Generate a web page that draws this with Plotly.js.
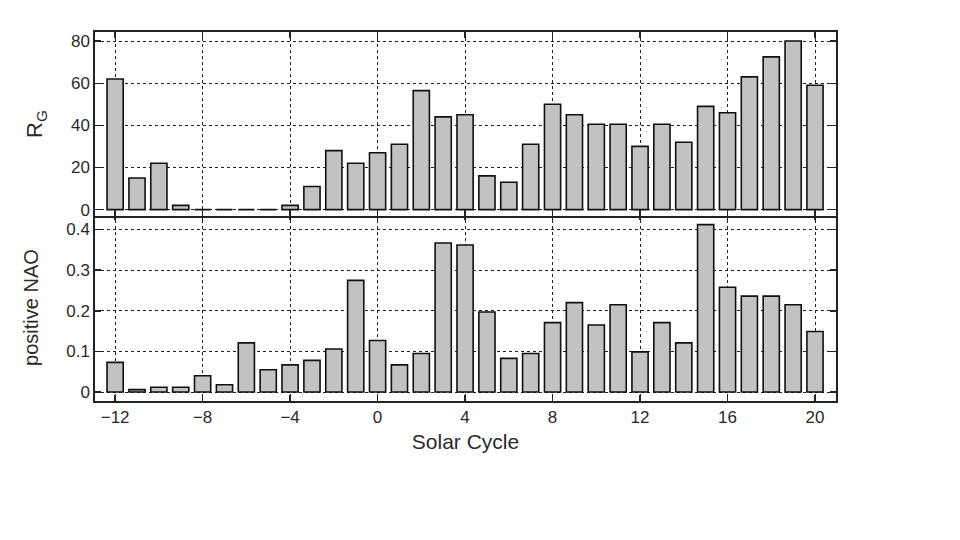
<!DOCTYPE html>
<html>
<head>
<meta charset="utf-8">
<script src="https://cdn.plot.ly/plotly-3.0.1.min.js"></script>
<style>html,body{margin:0;padding:0;background:#fff;}#chart{width:960px;height:540px;}</style>
</head>
<body>
<div id="chart"></div>
<script>
const solarCycle = [-12,-11,-10,-9,-8,-7,-6,-5,-4,-3,-2,-1,0,1,2,3,4,5,6,7,8,9,10,11,12,13,14,15,16,17,18,19,20];
const rgValues = [62,15,22,2,0,0,0,0,2,11,28,22,27,31,56.5,44,45,16,13,31,50,45,40.5,40.5,30,40.5,32,49,46,63,72.5,80,59];
const naoValues = [0.073,0.006,0.012,0.012,0.04,0.018,0.121,0.055,0.067,0.078,0.106,0.275,0.127,0.067,0.095,0.367,0.362,0.197,0.083,0.095,0.171,0.22,0.165,0.215,0.099,0.171,0.121,0.412,0.258,0.236,0.236,0.215,0.149];
const xTicks = [-12,-8,-4,0,4,8,12,16,20];
const rgTicks = [0,20,40,60,80];
const naoTicks = [0,0.1,0.2,0.3,0.4];
const naoTickLabels = ['0','0.1','0.2','0.3','0.4'];

const barStyle = {color:'#c2c2c5', line:{color:'#111', width:1.6}};
const traces = [
  {type:'bar', x:solarCycle, y:rgValues, xaxis:'x2', yaxis:'y2', width:0.74, marker:barStyle, hoverinfo:'x+y'},
  {type:'bar', x:solarCycle, y:naoValues, xaxis:'x', yaxis:'y', width:0.74, marker:barStyle, hoverinfo:'x+y'}
];
const font = {family:'Liberation Sans, Arial, sans-serif', color:'#2a2a2a'};
const xBase = {
  range:[-12.92,20.96], tickmode:'array', tickvals:xTicks,
  showgrid:true, gridcolor:'#222', griddash:'dot', gridwidth:1,
  zeroline:false, showline:true, linecolor:'#222', linewidth:1.6, mirror:'ticks',
  ticks:'inside', ticklen:6, tickcolor:'#222', tickwidth:1.4
};
const yBase = {
  showgrid:true, gridcolor:'#222', griddash:'dot', gridwidth:1,
  zeroline:false, showline:true, linecolor:'#222', linewidth:1.6, mirror:'ticks',
  ticks:'inside', ticklen:6, tickcolor:'#222', tickwidth:1.4, tickfont:{size:17}
};
const layout = {
  width:960, height:540,
  margin:{l:95, r:124, t:32, b:139},
  paper_bgcolor:'#fff', plot_bgcolor:'#fff',
  font:font, showlegend:false, bargap:0,
  xaxis: Object.assign({}, xBase, {anchor:'y', tickfont:{size:17}, ticktext:xTicks.map(v=>v<0?'\u2212'+Math.abs(v):String(v)),
    tickmode:'array',
    title:{text:'Solar Cycle', font:{size:21, color:'#2a2a2a'}, standoff:8}}),
  xaxis2: Object.assign({}, xBase, {anchor:'y2', matches:'x', showticklabels:false}),
  yaxis: Object.assign({}, yBase, {domain:[0,0.5065], anchor:'x', range:[-0.022,0.438], tickvals:naoTicks, ticktext:naoTickLabels, tickmode:'array',
    title:{text:'positive NAO', font:{size:20, color:'#2a2a2a'}, standoff:22}}),
  yaxis2: Object.assign({}, yBase, {domain:[0.5015,1], anchor:'x2', range:[-3.0,84.3], tickvals:rgTicks, tickmode:'array',
    title:{text:'R<sub>G</sub>', font:{size:22, color:'#2a2a2a'}, standoff:22}})
};
Plotly.newPlot('chart', traces, layout, {displayModeBar:false, staticPlot:true});
</script>
</body>
</html>
